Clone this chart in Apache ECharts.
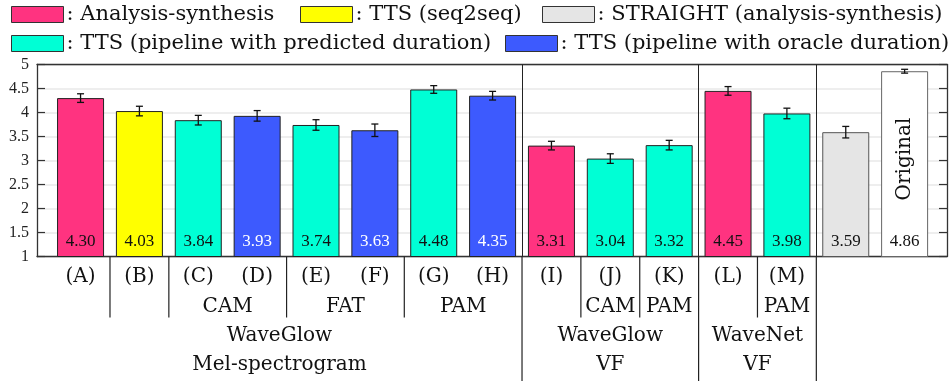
<!DOCTYPE html>
<html><head><meta charset="utf-8">
<script src="https://cdn.jsdelivr.net/npm/echarts@6/dist/echarts.min.js"></script>
<style>html,body{margin:0;padding:0;background:#fff}#c{width:950px;height:381px}</style>
</head><body><div id="c"></div>
<script>
// ---- data ----
const categories = ['(A)','(B)','(C)','(D)','(E)','(F)','(G)','(H)','(I)','(J)','(K)','(L)','(M)','STRAIGHT','Original'];
const scores = [4.30,4.03,3.84,3.93,3.74,3.63,4.48,4.35,3.31,3.04,3.32,4.45,3.98,3.59,4.86];
const ciHalf = [0.09,0.10,0.10,0.11,0.11,0.13,0.08,0.09,0.09,0.10,0.10,0.09,0.11,0.12,0.04];
const systemType = ['AS','S2S','PRED','ORA','PRED','ORA','PRED','ORA','AS','PRED','PRED','AS','PRED','STR','ORIG'];
const typeKeys = ['AS','S2S','STR','PRED','ORA','ORIG'];
const typeNames = ['Analysis-synthesis','TTS (seq2seq)','STRAIGHT (analysis-synthesis)','TTS (pipeline with predicted duration)','TTS (pipeline with oracle duration)','Original'];
const featureLabels = ['CAM','FAT','PAM','CAM','PAM','PAM'];
const featureSpans = [[2,3],[4,5],[6,7],[9,9],[10,10],[12,12]];
const vocoderLabels = ['WaveGlow','WaveGlow','WaveNet'];
const inputLabels = ['Mel-spectrogram','VF','VF'];
const shortSeparators = [0.5,1.5,3.5,5.5,8.5,9.5,11.5];
const longSeparators = [7.5,10.5,12.5];

// ---- style ----
const colors = {AS:'#FF3380', S2S:'#FFFF00', STR:'#E5E5E5', PRED:'#00FFD5', ORA:'#3D5AFE', ORIG:'#FFFFFF'};
const borders = {AS:'#222', S2S:'#222', STR:'#555', PRED:'#222', ORA:'#222', ORIG:'#666'};
const labelColors = {AS:'#111', S2S:'#111', STR:'#111', PRED:'#111', ORA:'#fff', ORIG:'#111'};
const SERIF = '"DejaVu Serif", serif';
const NUM = '"Liberation Serif", serif';
const X_MIN = -0.74, X_MAX = 14.72;
const FRAME = '#333';

const chart = echarts.init(document.getElementById('c'));

const barSeries = typeKeys.map((k, idx) => ({
  name: typeNames[idx], type: 'bar', barWidth: 47, barGap: '-100%',
  xAxisIndex: 0, yAxisIndex: 0,
  data: scores.map((v, i) => systemType[i] === k ? [i, v] : null).filter(Boolean),
  itemStyle: {color: colors[k], borderColor: borders[k], borderWidth: 1},
  label: {show: true, position: 'insideBottom', distance: 7,
    formatter: p => p.value[1].toFixed(2), fontFamily: NUM, fontSize: 17, color: labelColors[k]},
  silent: true, animation: false
}));
barSeries[0].markLine = {
  silent: true, symbol: 'none', label: {show: false},
  lineStyle: {color: '#222', type: 'solid', width: 1},
  data: longSeparators.map(x => ({xAxis: x}))
};

const errSeries = {
  type: 'custom', name: 'ci', xAxisIndex: 0, yAxisIndex: 0, z: 10, silent: true, animation: false,
  data: scores.map((v, i) => [i, v - ciHalf[i], v + ciHalf[i]]),
  encode: {x: 0, y: [1, 2]},
  renderItem: (params, api) => {
    const lo = api.coord([api.value(0), api.value(1)]);
    const hi = api.coord([api.value(0), api.value(2)]);
    const w = 3.5, st = {stroke: '#111', lineWidth: 1.3};
    return {type: 'group', children: [
      {type: 'line', shape: {x1: lo[0], y1: lo[1], x2: hi[0], y2: hi[1]}, style: st},
      {type: 'line', shape: {x1: lo[0]-w, y1: lo[1], x2: lo[0]+w, y2: lo[1]}, style: st},
      {type: 'line', shape: {x1: hi[0]-w, y1: hi[1], x2: hi[0]+w, y2: hi[1]}, style: st}
    ]};
  }
};

const legendPos = [[11,4],[300,4],[542,4],[11,33],[505,33]];
const legends = legendPos.map((p, idx) => ({
  data: [typeNames[idx]], left: p[0], top: p[1], padding: 0,
  itemWidth: 52, itemHeight: 16, icon: 'rect', selectedMode: false,
  itemStyle: {borderColor: '#333', borderWidth: 1},
  formatter: n => ': ' + n,
  textStyle: {fontFamily: SERIF, fontSize: 21, color: '#111', padding: [0,0,0,-2]}
}));

const axisLine = {show: true, onZero: false, lineStyle: {color: FRAME, width: 1.3}};
chart.setOption({
  animation: false,
  backgroundColor: '#fff',
  grid: {left: 37, right: 3, top: 64.5, bottom: 124.5},
  legend: legends,
  xAxis: [
    {type: 'value', min: X_MIN, max: X_MAX, axisLine, axisTick: {show: false}, axisLabel: {show: false}, splitLine: {show: false}},
    {type: 'value', position: 'top', min: X_MIN, max: X_MAX, axisLine, axisTick: {show: false}, axisLabel: {show: false}, splitLine: {show: false}}
  ],
  yAxis: [
    {type: 'value', min: 1, max: 5, interval: 0.5, axisLine,
     axisTick: {show: true, inside: true, length: 8, lineStyle: {color: FRAME, width: 1.2}},
     axisLabel: {fontFamily: NUM, fontSize: 16, color: '#222', margin: 8},
     splitLine: {show: true, lineStyle: {color: '#e8e8e8', width: 1.5}}},
    {type: 'value', position: 'right', min: 1, max: 5, interval: 0.5, axisLine,
     axisTick: {show: true, inside: true, length: 8, lineStyle: {color: FRAME, width: 1.2}},
     axisLabel: {show: false}, splitLine: {show: false}}
  ],
  series: [...barSeries, errSeries]
});

// ---- hierarchical category labels below the axis ----
const px = v => chart.convertToPixel({xAxisIndex: 0}, v);
const py = v => chart.convertToPixel({yAxisIndex: 0}, v);
const yBase = py(1);
const H = chart.getHeight();
const g = [];
const txt = (x, y, s, extra) => g.push(Object.assign({type: 'text', x, y, silent: true, z: 100,
  style: {text: s, fontFamily: SERIF, fontSize: 20, fill: '#111', align: 'center', verticalAlign: 'middle'}}, extra || {}));
const vline = (x, y1, y2) => g.push({type: 'line', silent: true, z: 100, shape: {x1: x, y1, x2: x, y2}, style: {stroke: '#222', lineWidth: 1.2}});

for (let i = 0; i <= 12; i++) txt(px(i), yBase + 20, categories[i]);
featureLabels.forEach((s, k) => txt((px(featureSpans[k][0]) + px(featureSpans[k][1])) / 2, yBase + 50, s));
const groupBounds = [X_MIN, ...longSeparators];
vocoderLabels.forEach((s, k) => {
  const cx = (px(groupBounds[k]) + px(groupBounds[k+1])) / 2;
  txt(cx, yBase + 79, s);
  txt(cx, yBase + 108, inputLabels[k]);
});
shortSeparators.forEach(x => vline(px(x), yBase, yBase + 61));
longSeparators.forEach(x => vline(px(x), yBase, H));
txt(px(14), py(3.03), categories[14], {rotation: Math.PI / 2});

chart.setOption({graphic: {elements: g}});
</script></body></html>
